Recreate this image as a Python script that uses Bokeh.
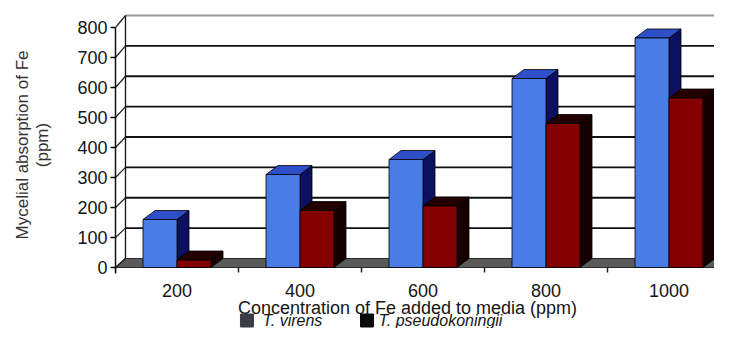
import numpy as np
from bokeh.plotting import figure
from bokeh.layouts import column
from bokeh.models import Range1d, FixedTicker
from bokeh.core.properties import value
from bokeh.embed import file_html
from bokeh.resources import INLINE

# ---------------- data ----------------
concentrations = ["200", "400", "600", "800", "1000"]
t_virens = [160, 310, 360, 630, 765]
t_pseudokoningii = [25, 190, 205, 480, 565]
y_ticks = [0, 100, 200, 300, 400, 500, 600, 700, 800]
series_names = ["T. virens", "T. pseudokoningii"]
x_title = "Concentration of Fe added to media (ppm)"
y_title = "Mycelial absorption of Fe\n(ppm)"

# ---------------- geometry / style ----------------
W = 714
H1, H2 = 279, 49
B_LEFT, B_TOP = 115, 10
PX_X = 123.0          # pixels per category
PX_Y = 0.3            # pixels per value unit
ZERO_PX = 267         # pixel row of value 0
frame_w = W - B_LEFT
x_end = frame_w / PX_X
y_end = (ZERO_PX - B_TOP) / PX_Y
y_start = -(H1 - ZERO_PX) / PX_Y

wall_dx = 10 / PX_X
wall_dy = 9 / PX_Y
wall_scale = 1.0125
bar_w = 34 / PX_X
bar_dx = 12 / PX_X
bar_dy = 9 / PX_Y
tick_len = 5 / PX_Y

FONT = "Liberation Sans"
TXT = "#151515"

front_cols = ["#4a7ce6", "#820000"]
top_cols = ["#2f4fc8", "#220000"]
side_cols = ["#0b1060", "#140000"]
legend_cols = ["#3c3c48", "#0a0a0a"]
legend_sq_x = [1.016, 1.992]      # category units, left edge of square
legend_tx_x = [1.195, 2.138]
title_x = 2.374
row_ticklab, row_title, row_legend = 11, 28, 41   # px from top of the strip

p = figure(width=W, height=H1, output_backend="svg", toolbar_location=None,
           x_range=Range1d(0, x_end), y_range=Range1d(y_start, y_end),
           min_border_left=B_LEFT, min_border_right=0,
           min_border_top=B_TOP, min_border_bottom=0)
p.outline_line_color = None
p.grid.visible = False
p.xaxis.visible = False
p.background_fill_color = "white"
p.border_fill_color = "white"

def back(v):
    return v * wall_scale + wall_dy

# floor
p.patch(x=[0, x_end, x_end + wall_dx, wall_dx], y=[0, 0, wall_dy, wall_dy],
        fill_color="#5a5a5a", line_color="#2a2a2a", line_width=1.2)

# back-wall gridlines
gy = [back(v) for v in y_ticks[1:]]
gcol = ["#111111"] * (len(gy) - 1) + ["#9a9a9a"]
p.segment(x0=[wall_dx] * len(gy), y0=gy, x1=[x_end + 1] * len(gy), y1=gy,
          line_color=gcol, line_width=1.8)
p.segment(x0=[wall_dx], y0=[wall_dy], x1=[wall_dx], y1=[back(y_ticks[-1])],
          line_color="#111111", line_width=1.3)
p.segment(x0=[0] * len(y_ticks), y0=y_ticks, x1=[wall_dx] * len(y_ticks),
          y1=[back(v) for v in y_ticks], line_color="#222222", line_width=1.2)

# category tick marks under the floor
bounds_x = list(range(len(concentrations) + 1))
p.segment(x0=bounds_x, y0=[0] * len(bounds_x), x1=bounds_x, y1=[-tick_len] * len(bounds_x),
          line_color="#222222", line_width=1.5)

# 3D bars
xs, ys, fc = [], [], []
for i in range(len(concentrations)):
    c = i + 0.5
    for s, vals in enumerate([t_virens, t_pseudokoningii]):
        v = vals[i]
        l = c - bar_w + s * bar_w
        r = l + bar_w
        xs.append([r, r + bar_dx, r + bar_dx, r]); ys.append([0, bar_dy, v + bar_dy, v]); fc.append(side_cols[s])
        xs.append([l, r, r + bar_dx, l + bar_dx]); ys.append([v, v, v + bar_dy, v + bar_dy]); fc.append(top_cols[s])
        xs.append([l, r, r, l]); ys.append([0, 0, v, v]); fc.append(front_cols[s])
p.patches(xs=xs, ys=ys, fill_color=fc, line_color="#000000", line_width=0.8)

# y axis
ya = p.yaxis[0]
ya.ticker = FixedTicker(ticks=y_ticks)
ya.bounds = (-20, y_ticks[-1])
ya.major_label_text_font = FONT
ya.major_label_text_font_size = "18px"
ya.major_label_text_color = TXT
ya.major_tick_out = 5
ya.major_tick_in = 0
ya.minor_tick_out = 0
ya.minor_tick_in = 0
ya.major_label_standoff = 3
ya.axis_line_color = "#111111"
ya.axis_line_width = 1.5
ya.major_tick_line_width = 1.3
ya.axis_label = y_title
ya.axis_label_text_font = FONT
ya.axis_label_text_font_size = "17px"
ya.axis_label_text_font_style = "normal"
ya.axis_label_text_color = "#333333"
ya.axis_label_text_line_height = 1.1
ya.axis_label_standoff = 22

# bottom strip: category labels, x title, legend
lg = figure(width=W, height=H2, output_backend="svg", toolbar_location=None,
            x_range=p.x_range, y_range=Range1d(H2, 0),
            min_border_left=B_LEFT, min_border_right=0, min_border_top=0, min_border_bottom=0)
lg.axis.visible = False
lg.grid.visible = False
lg.outline_line_color = None
lg.border_fill_color = "white"
centers = [i + 0.5 for i in range(len(concentrations))]
lg.text(x=centers, y=[row_ticklab] * len(centers), text=concentrations, text_font=value(FONT),
        text_font_size="18px", text_color=TXT, text_align="center", text_baseline="middle")
lg.text(x=[title_x], y=[row_title], text=[x_title], text_font=value(FONT),
        text_font_size="18px", text_color=TXT, text_align="center", text_baseline="middle")
lg.rect(x=[sx + 6.5 / PX_X for sx in legend_sq_x], y=[row_legend] * 2, width=13, height=13,
        width_units="screen", height_units="screen", fill_color=legend_cols, line_color=legend_cols)
lg.text(x=legend_tx_x, y=[row_legend] * 2, text=series_names, text_font=value(FONT),
        text_font_size="16px", text_font_style="italic", text_color=TXT,
        text_align="left", text_baseline="middle")

layout = column(p, lg, spacing=0)
open("out.html", "w").write(file_html(layout, INLINE))
